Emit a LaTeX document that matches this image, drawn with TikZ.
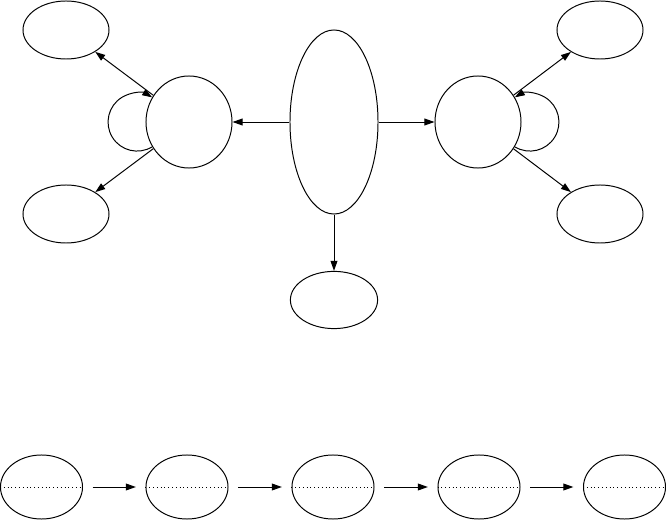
\documentclass[tikz,border=0pt]{standalone}
\usepackage{tikz}
\usepackage{xcolor}
\usetikzlibrary{arrows.meta,shapes.geometric}
\definecolor{ink}{HTML}{000000}
\tikzset{
  oval/.style={draw=ink,ellipse,line width=0.7pt,inner sep=0pt,minimum width=#1},
  oval/.default=2.15cm,
  edge/.style={draw=ink,line width=0.7pt,-{Triangle[length=0.25cm,width=0.17cm]}}
}
\begin{document}
\begin{tikzpicture}[x=0.025cm,y=0.025cm]
        \useasboundingbox (0,0) rectangle (666,521);
        \node[oval,minimum height=4.6cm,minimum width=2.2cm] (hub) at (334,399) {};
        \node[oval,minimum height=2.3cm] (lc) at (189,399) {};
        \node[oval,minimum height=2.3cm] (rc) at (478,399) {};
        \node[oval,minimum height=1.45cm] (tl) at (66,491) {};
        \node[oval,minimum height=1.45cm] (bl) at (66,307) {};
        \node[oval,minimum height=1.45cm] (tr) at (600,491) {};
        \node[oval,minimum height=1.45cm] (br) at (600,307) {};
        \node[oval=2.18cm,minimum height=1.43cm] (sink) at (334,221) {};
        \draw[edge] (hub) -- (lc);
        \draw[edge] (hub) -- (rc);
        \draw[edge] (hub) -- (sink);
        \draw[edge] (lc) -- (tl);
        \draw[edge] (lc) -- (bl);
        \draw[edge] (rc) -- (tr);
        \draw[edge] (rc) -- (br);
        \draw[edge] (lc.214) arc[start angle=-58.5,end angle=-301.5,radius=29];
        \draw[edge] (rc.326) arc[start angle=-121.5,end angle=121.5,radius=29];
        % chain along the bottom
        \foreach \i/\x in {1/41.5,2/187,3/333,4/479,5/624.5}{
          \node[oval=2.05cm,minimum height=1.6cm] (r\i) at (\x,34) {};
          \draw[ink,dotted,line width=0.7pt] (r\i.west) -- (r\i.east);}
        \foreach \i/\j in {1/2,2/3,3/4,4/5}{
          \draw[edge,shorten <=0.24cm,shorten >=0.24cm] (r\i) -- (r\j);}
      \end{tikzpicture}
\end{document}
